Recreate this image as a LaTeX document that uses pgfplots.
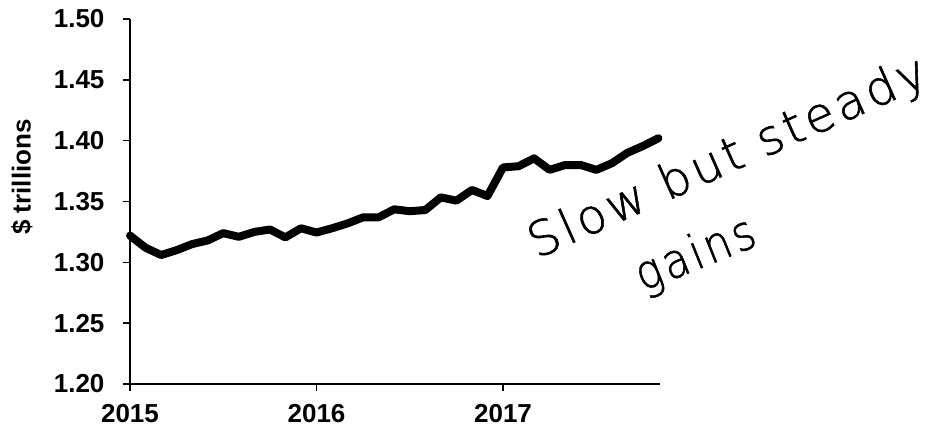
\documentclass[border=0pt]{standalone}
\usepackage{fontspec}
\setmainfont{Liberation Sans}
\newfontfamily\hand{DejaVu Sans ExtraLight}[LetterSpace=8, FakeBold=1.2]
\usepackage{pgfplots}
\pgfplotsset{compat=1.18}

% monthly values, Jan 2015 = 0
\pgfplotstableread{
m  v
0  1.322
1  1.312
2  1.306
3  1.310
4  1.315
5  1.318
6  1.324
7  1.321
8  1.325
9  1.327
10 1.3205
11 1.328
12 1.3245
13 1.328
14 1.332
15 1.337
16 1.337
17 1.3436
18 1.342
19 1.343
20 1.3534
21 1.3507
22 1.3595
23 1.3545
24 1.378
25 1.379
26 1.3855
27 1.376
28 1.380
29 1.380
30 1.376
31 1.3814
32 1.390
33 1.3956
34 1.402
}\money

\begin{document}
\begin{tikzpicture}
  \path[use as bounding box] (-130pt,-48pt) rectangle (807pt,384pt);
  \begin{axis}[
      anchor=south west, at={(0,0)},
      scale only axis,
      width=530pt, height=365pt,
      axis lines=left,
      axis line style={line width=1.6pt, -},
      xmin=0, xmax=34.1,
      ymin=1.20, ymax=1.50,
      xtick={0,12,24},
      xticklabels={2015,2016,2017},
      ytick={1.20,1.25,...,1.50},
      /pgf/number format/assume math mode=true,
      tick style={line width=1.6pt, black},
      tick align=outside,
      major tick length=7pt,
      ticklabel style={font=\fontsize{26}{30}\selectfont\bfseries},
      xticklabel style={yshift=-10pt},
      yticklabel style={xshift=-15pt, /pgf/number format/fixed, /pgf/number format/fixed zerofill, /pgf/number format/precision=2},
      every axis y label/.style={at={(axis description cs:-0.204,0.567)}, rotate=90, anchor=center},
      ylabel={\fontsize{26}{30}\selectfont\bfseries \$ trillions},
      clip=false,
    ]
    \addplot[black, line width=8pt, line join=round, line cap=round, mark=none] table[x=m, y=v] {\money};
  \end{axis}
  % handwritten note
  \node[rotate=24, font=\hand\fontsize{48}{52}\selectfont] at (598pt,225pt) {Slow but steady};
  \node[rotate=22, xscale=0.88, font=\hand\fontsize{48}{52}\selectfont] at (566pt,128pt) {gains};
\end{tikzpicture}
\end{document}
